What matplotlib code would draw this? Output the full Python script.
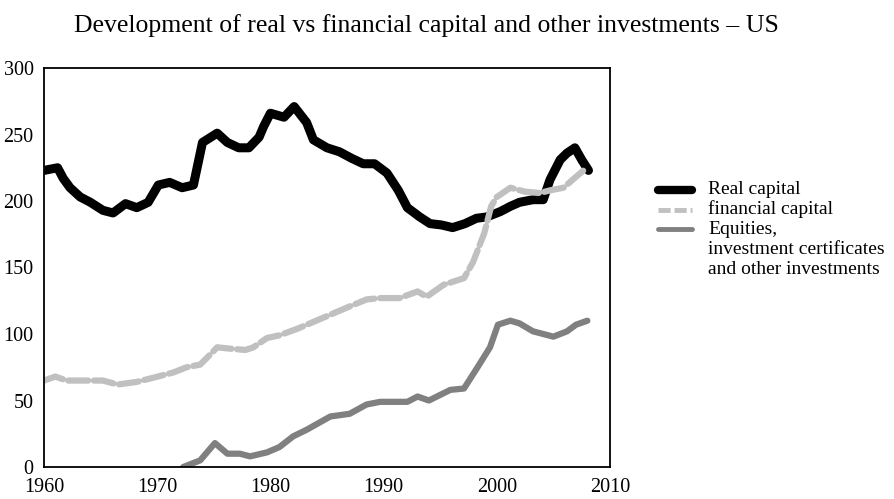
import matplotlib
matplotlib.use("Agg")
import matplotlib.pyplot as plt
from matplotlib.lines import Line2D

plt.rcParams['font.family'] = ['Liberation Serif', 'DejaVu Serif']

title = "Development of real vs financial capital and other investments \u2013 US"

real_years = [1960.0, 1961.2, 1961.7, 1962.3, 1963.2, 1964.1, 1965.2, 1966.1, 1967.2, 1968.2,
              1969.2, 1970.1, 1971.1, 1972.2, 1973.2, 1974.0, 1975.3, 1976.2, 1977.2, 1978.1,
              1979.0, 1979.4, 1980.0, 1981.2, 1982.1, 1983.2, 1983.8, 1985.0, 1986.1, 1987.2,
              1988.2, 1989.2, 1990.3, 1991.3, 1992.1, 1993.2, 1994.1, 1995.1, 1996.1, 1997.2,
              1998.2, 1999.1, 2000.3, 2001.2, 2002.0, 2003.2, 2004.1, 2004.7, 2005.6, 2006.2,
              2006.9, 2007.5, 2008.1]
real_capital = [223, 225, 217, 210, 203, 199, 193, 191, 198, 195,
                199, 212, 214, 210, 212, 244, 251, 244, 240, 240,
                248, 256, 266, 263, 271, 259, 246, 240, 237, 232,
                228, 228, 221, 208, 195, 188, 183, 182, 180, 183,
                187, 188, 192, 196, 199, 201, 201, 216, 231, 236,
                240, 231, 223]

fin_years = [1960.0, 1961.0, 1962.0, 1963.4, 1965.2, 1966.5, 1968.2, 1969.6, 1971.4, 1972.6,
             1973.8, 1974.5, 1975.3, 1976.4, 1977.8, 1978.5, 1979.7, 1980.8, 1982.4, 1984.6,
             1986.8, 1988.5, 1989.7, 1991.4, 1993.0, 1993.8, 1995.3, 1997.1, 1997.9, 1998.9,
             1999.5, 2000.0, 2001.2, 2002.5, 2003.8, 2004.7, 2005.9, 2006.7, 2007.8]
financial_capital = [65, 68, 65, 65, 65, 62, 64, 67, 71, 75,
                     77, 83, 90, 89, 88, 90, 97, 99, 104, 112,
                     120, 126, 127, 127, 132, 128, 137, 142, 154, 176,
                     196, 203, 210, 207, 206, 208, 210, 216, 224]

eq_years = [1972.3, 1973.8, 1975.1, 1976.2, 1977.3, 1978.2, 1979.7, 1980.8, 1982.0, 1983.2,
            1985.3, 1987.0, 1988.5, 1989.7, 1992.1, 1993.0, 1994.0, 1995.9, 1997.1, 1998.3,
            1999.4, 2000.1, 2001.2, 2002.0, 2003.2, 2005.0, 2006.2, 2007.0, 2008.0]
equities = [0, 5, 18, 10, 10, 8, 11, 15, 23, 28,
            38, 40, 47, 49, 49, 53, 50, 58, 59, 75,
            90, 107, 110, 108, 102, 98, 102, 107, 110]

x_ticks = [1960, 1970, 1980, 1990, 2000, 2010]
y_ticks = [0, 50, 100, 150, 200, 250, 300]

labels = ["Real capital", "financial capital", "Equities,\ninvestment certificates\nand other investments"]

fig = plt.figure(figsize=(8.94, 4.99), dpi=100)
ax = fig.add_axes([44/894, 1-467/499, (610-44)/894, (467-68)/499])

c_real = "#000000"
c_fin = "#c0c0c0"
c_eq = "#808080"

ax.plot(real_years, real_capital, color=c_real, lw=6.5, solid_joinstyle='round', solid_capstyle='round')
ax.plot(fin_years, financial_capital, color=c_fin, lw=4.5, dashes=(3.2, 0.9), dash_capstyle='round')
ax.plot(eq_years, equities, color=c_eq, lw=4.5, solid_capstyle='round', solid_joinstyle='round')

ax.set_xlim(1960, 2010)
ax.set_ylim(0, 300)
ax.set_xticks(x_ticks)
ax.set_yticks(y_ticks)
ax.tick_params(length=0, labelsize=14.5)
ax.tick_params(axis='x', pad=8)
ax.tick_params(axis='y', pad=7.5)
for s in ax.spines.values():
    s.set_linewidth(1.3)
    s.set_color("black")

fig.text(426/894, 1-32/499, title, ha='center', va='baseline', fontsize=18.5)

# manual legend
leg_y = [190, 210, 229]
styles = [dict(color=c_real, lw=6, solid_capstyle='round'),
          dict(color=c_fin, lw=3.5, dashes=(2.5, 0.8)),
          dict(color=c_eq, lw=3.5, solid_capstyle='round')]
for yy, st in zip(leg_y, styles):
    fig.add_artist(Line2D([658/894, 692/894], [1-yy/499, 1-yy/499], transform=fig.transFigure, **st))

lines = []
for lab in labels:
    lines.extend(lab.split("\n"))
text_baselines = [194, 214, 234, 254, 274]
for yb, line in zip(text_baselines, lines):
    fig.text(708/894, 1-yb/499, line, ha='left', va='baseline', fontsize=14)

fig.savefig("out.png", dpi=100)
